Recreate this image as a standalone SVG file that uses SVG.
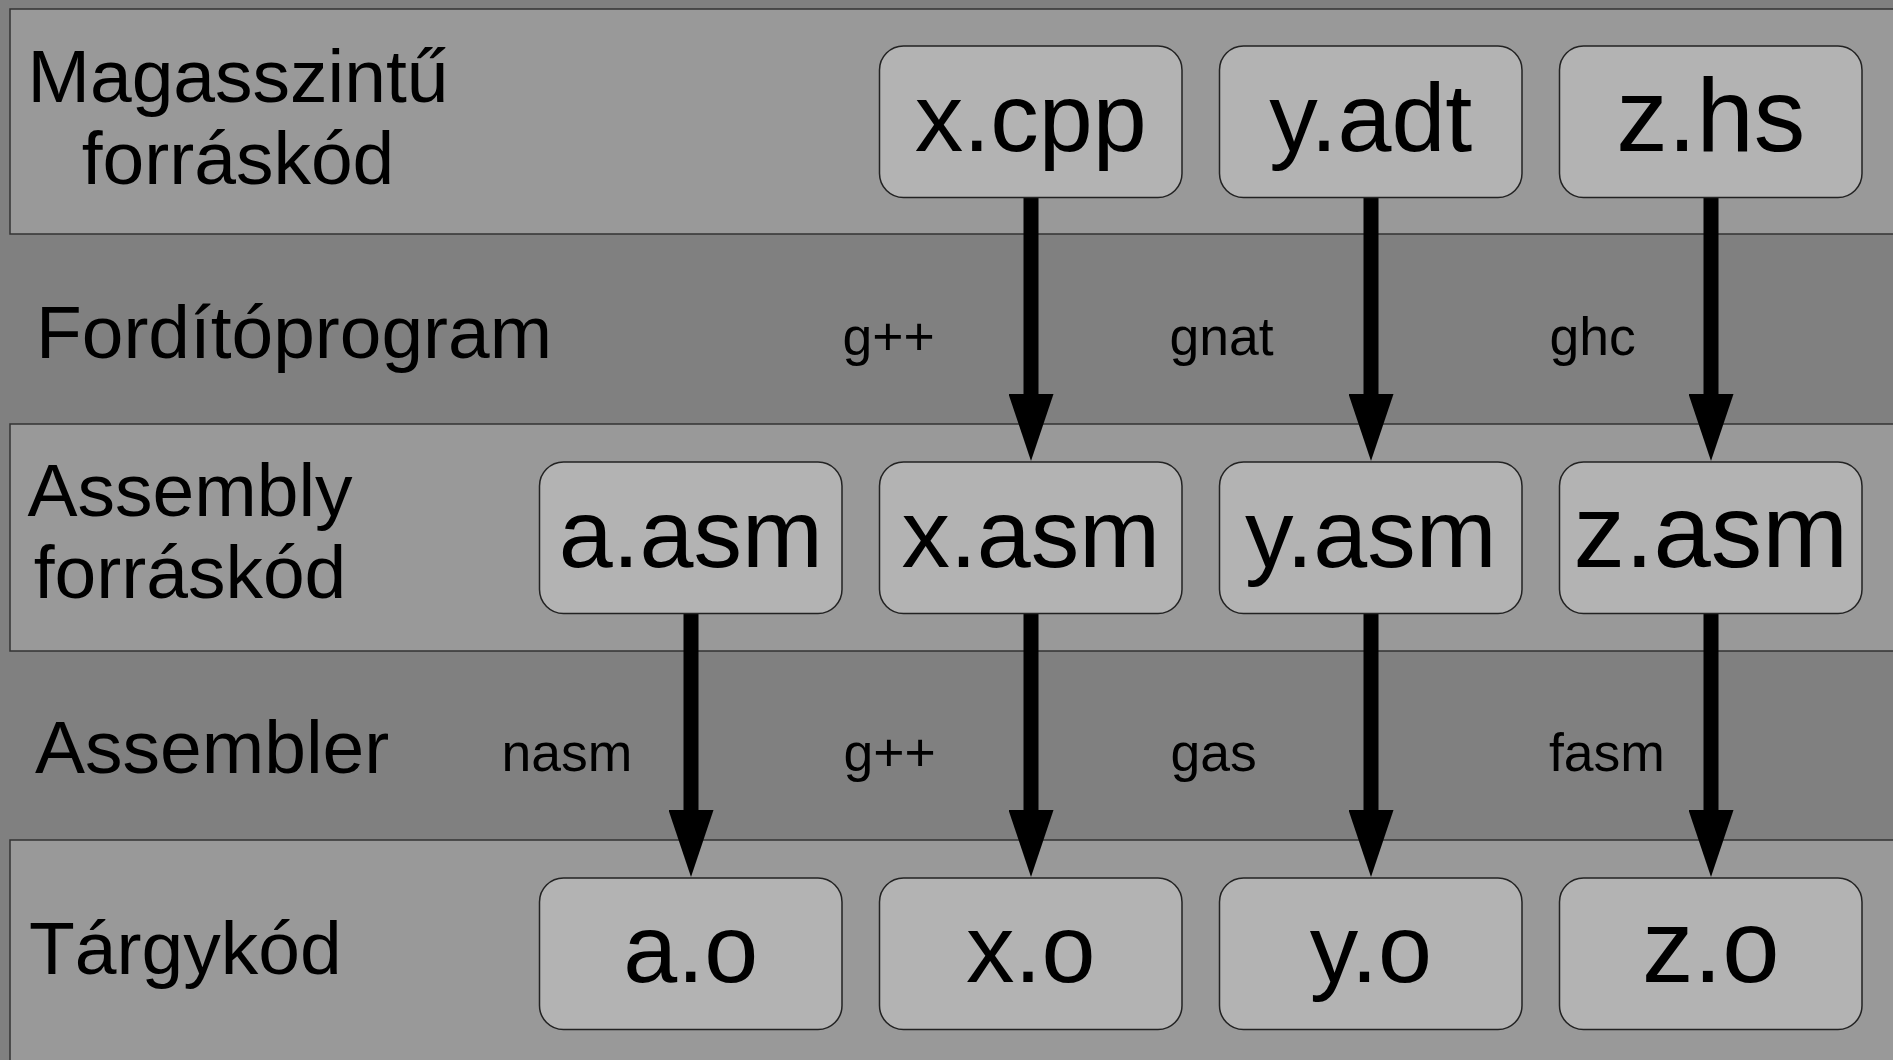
<svg xmlns="http://www.w3.org/2000/svg" width="1893" height="1060" viewBox="0 0 1893 1060">
  <style>
    .band { fill: #999999; stroke: #333333; stroke-width: 1.5; }
    .node rect { fill: #b3b3b3; stroke: #222222; stroke-width: 1.5; }
    .node text { font-family: "Liberation Sans", Arial, sans-serif; font-size: 97px; fill: #000; text-anchor: middle; }
    .node text.big { font-size: 103px; }
    .row { font-family: "Liberation Sans", Arial, sans-serif; font-size: 75px; fill: #000; }
    .tool { font-family: "Liberation Sans", Arial, sans-serif; font-size: 53.5px; fill: #000; }
    .edge { stroke: #000; stroke-width: 15; fill: none; marker-end: url(#head); }
  </style>
  <defs>
    <marker id="head" viewBox="0 0 67 45" refX="0" refY="22.5" markerWidth="67" markerHeight="45" markerUnits="userSpaceOnUse" orient="auto">
      <path d="M0,0 L67,22.5 L0,45 Z" fill="#000"/>
    </marker>
  </defs>

  <!-- background -->
  <rect x="0" y="0" width="1893" height="1060" fill="#808080"/>

  <!-- level bands -->
  <g id="bands">
    <rect class="band" x="10" y="9" width="1900" height="225"/>
    <rect class="band" x="10" y="424" width="1900" height="227"/>
    <rect class="band" x="10" y="840" width="1900" height="240"/>
  </g>

  <!-- level titles -->
  <g id="row-labels">
    <text class="row" x="238" y="102" text-anchor="middle">Magasszintű</text>
    <text class="row" x="238" y="184" text-anchor="middle">forráskód</text>
    <text class="row" x="36" y="358" textLength="516" lengthAdjust="spacingAndGlyphs">Fordítóprogram</text>
    <text class="row" x="190" y="516" text-anchor="middle">Assembly</text>
    <text class="row" x="190" y="598" text-anchor="middle">forráskód</text>
    <text class="row" x="35" y="773">Assembler</text>
    <text class="row" x="29" y="974">Tárgykód</text>
  </g>

  <!-- connectors with tool names -->
  <g id="connectors">
    <line class="edge" x1="1031" y1="197" x2="1031" y2="394"/>
    <line class="edge" x1="1371" y1="197" x2="1371" y2="394"/>
    <line class="edge" x1="1711" y1="197" x2="1711" y2="394"/>
    <line class="edge" x1="691" y1="613" x2="691" y2="810"/>
    <line class="edge" x1="1031" y1="613" x2="1031" y2="810"/>
    <line class="edge" x1="1371" y1="613" x2="1371" y2="810"/>
    <line class="edge" x1="1711" y1="613" x2="1711" y2="810"/>
    <text class="tool" x="842.5" y="355">g++</text>
    <text class="tool" x="1169.5" y="355">gnat</text>
    <text class="tool" x="1549.5" y="355">ghc</text>
    <text class="tool" x="501.5" y="771">nasm</text>
    <text class="tool" x="843.5" y="771">g++</text>
    <text class="tool" x="1170.5" y="771">gas</text>
    <text class="tool" x="1549" y="771">fasm</text>
  </g>

  <!-- high-level sources -->
  <g id="x-cpp" class="node"><rect x="879.5" y="46" width="302.5" height="151.5" rx="24"/><text x="1030.75" y="151">x.cpp</text></g>
  <g id="y-adt" class="node"><rect x="1219.5" y="46" width="302.5" height="151.5" rx="24"/><text x="1370.75" y="151">y.adt</text></g>
  <g id="z-hs" class="node"><rect x="1559.5" y="46" width="302.5" height="151.5" rx="24"/><text class="big" x="1710.75" y="151">z.hs</text></g>

  <!-- assembly sources -->
  <g id="a-asm" class="node"><rect x="539.5" y="462" width="302.5" height="151.5" rx="24"/><text x="690.75" y="566.5">a.asm</text></g>
  <g id="x-asm" class="node"><rect x="879.5" y="462" width="302.5" height="151.5" rx="24"/><text x="1030.75" y="566.5">x.asm</text></g>
  <g id="y-asm" class="node"><rect x="1219.5" y="462" width="302.5" height="151.5" rx="24"/><text x="1370.75" y="566.5">y.asm</text></g>
  <g id="z-asm" class="node"><rect x="1559.5" y="462" width="302.5" height="151.5" rx="24"/><text class="big" x="1710.75" y="566.5">z.asm</text></g>

  <!-- object files -->
  <g id="a-o" class="node"><rect x="539.5" y="878" width="302.5" height="151.5" rx="24"/><text x="690.75" y="982">a.o</text></g>
  <g id="x-o" class="node"><rect x="879.5" y="878" width="302.5" height="151.5" rx="24"/><text x="1030.75" y="982">x.o</text></g>
  <g id="y-o" class="node"><rect x="1219.5" y="878" width="302.5" height="151.5" rx="24"/><text x="1370.75" y="982">y.o</text></g>
  <g id="z-o" class="node"><rect x="1559.5" y="878" width="302.5" height="151.5" rx="24"/><text class="big" x="1710.75" y="982">z.o</text></g>
</svg>
